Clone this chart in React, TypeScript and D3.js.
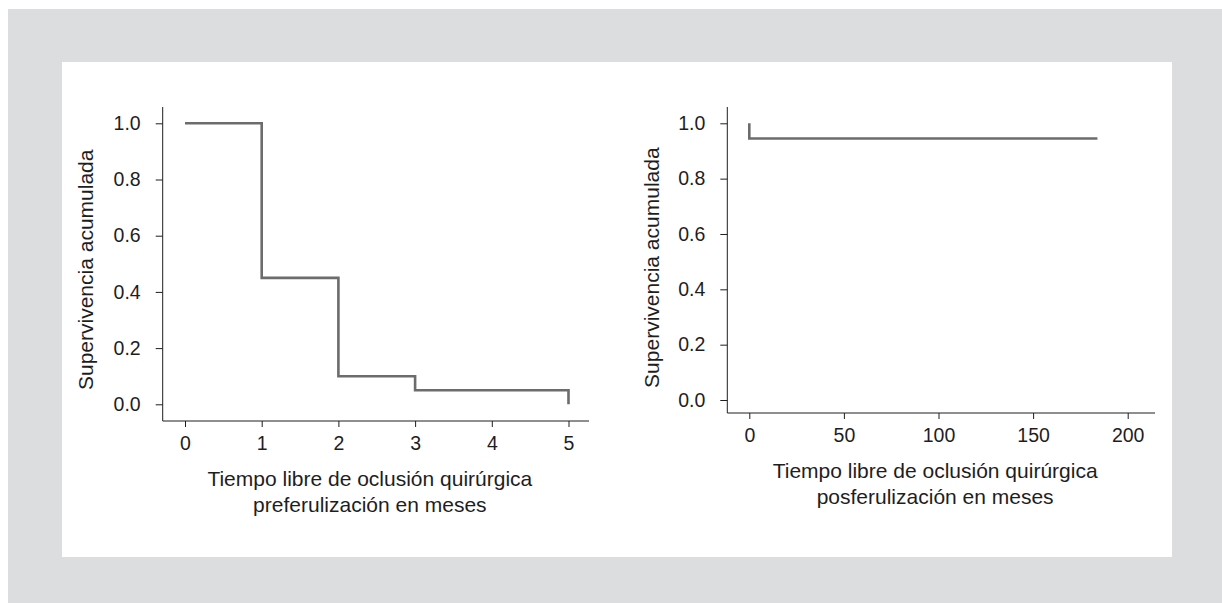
import React, { useRef, useEffect } from 'react';
import * as d3 from 'd3';

// Kaplan-Meier steps: [time, survival]
const preTimes = [0, 1, 1, 2, 2, 3, 3, 5, 5];
const preSurv = [1.0, 1.0, 0.45, 0.45, 0.1, 0.1, 0.05, 0.05, 0.0];
const postTimes = [0, 0, 184];
const postSurv = [1.0, 0.945, 0.945];

const yTicks = [0, 0.2, 0.4, 0.6, 0.8, 1.0];
const preXTicks = [0, 1, 2, 3, 4, 5];
const postXTicks = [0, 50, 100, 150, 200];

const yLabel = 'Supervivencia acumulada';
const preTitle = ['Tiempo libre de oclusión quirúrgica', 'preferulización en meses'];
const postTitle = ['Tiempo libre de oclusión quirúrgica', 'posferulización en meses'];

const FONT = '"Liberation Sans", Arial, sans-serif';
const INK = '#1e1e1e';

function KmPanel (props) {
  const g = useRef(null);
  const { yAxisX, x0, x1, xDomain, y0, y1, axisTop, axisBottom, axisRight, times, surv, xTicks, title, labelX } = props;

  useEffect(() => {
    const root = d3.select(g.current);
    root.selectAll('*').remove();

    const x = d3.scaleLinear().domain(xDomain).range([x0, x1]);
    const y = d3.scaleLinear().domain([0, 1]).range([y0, y1]);

    // y axis
    const ya = root.append('g')
      .attr('transform', `translate(${yAxisX},0)`)
      .call(d3.axisLeft(y).tickValues(yTicks).tickFormat(d3.format('.1f')).tickSize(7).tickPadding(15));
    ya.select('.domain').remove();
    ya.append('line')
      .attr('x1', 0).attr('x2', 0)
      .attr('y1', axisTop).attr('y2', axisBottom)
      .attr('stroke', INK);

    // x axis
    const xa = root.append('g')
      .attr('transform', `translate(0,${axisBottom})`)
      .call(d3.axisBottom(x).tickValues(xTicks).tickFormat(d3.format('d')).tickSize(6).tickPadding(9));
    xa.select('.domain').remove();
    xa.append('line')
      .attr('x1', yAxisX).attr('x2', axisRight)
      .attr('y1', 0).attr('y2', 0)
      .attr('stroke', INK);

    root.selectAll('.tick line').attr('stroke', INK);
    root.selectAll('.tick text')
      .attr('fill', INK)
      .attr('font-family', FONT)
      .attr('font-size', 19.5);

    const pts = times.map((t, i) => [x(t), y(surv[i])]);
    root.append('path')
      .attr('d', d3.line()(pts))
      .attr('fill', 'none')
      .attr('stroke', '#6c6c6e')
      .attr('stroke-width', 2.6);

    // y title
    root.append('text')
      .attr('transform', `translate(${labelX},${(y(0) + y(1)) / 2 + 6}) rotate(-90)`)
      .attr('text-anchor', 'middle')
      .attr('dy', '0.35em')
      .attr('fill', INK)
      .attr('font-family', FONT)
      .attr('font-size', 21)
      .text(yLabel);

    // x title
    const cx = (yAxisX + axisRight) / 2 - 6;
    title.forEach((line, i) => {
      root.append('text')
        .attr('x', cx)
        .attr('y', axisBottom + 65 + i * 26)
        .attr('text-anchor', 'middle')
        .attr('fill', INK)
        .attr('font-family', FONT)
        .attr('font-size', 21)
        .text(line);
    });
  }, []);

  return <g ref={g}></g>;
}

const App = () => {
  return (
    <svg width={1222} height={603} style={{ position: 'absolute', left: 0, top: 0 }}>
      <rect x={8} y={9} width={1214} height={594} fill="#dcdddf" />
      <rect x={62} y={62} width={1110} height={495} fill="#ffffff" />
      <KmPanel
        yAxisX={162.7} x0={185} x1={568.5} xDomain={[0, 5]}
        y0={404.3} y1={123.3} axisTop={107} axisBottom={421} axisRight={589}
        times={preTimes} surv={preSurv} xTicks={preXTicks} title={preTitle} labelX={86} />
      <KmPanel
        yAxisX={727.3} x0={749.3} x1={1127.7} xDomain={[0, 200]}
        y0={400} y1={123.3} axisTop={107} axisBottom={413} axisRight={1155}
        times={postTimes} surv={postSurv} xTicks={postXTicks} title={postTitle} labelX={652} />
    </svg>
  );
};

export default App;
